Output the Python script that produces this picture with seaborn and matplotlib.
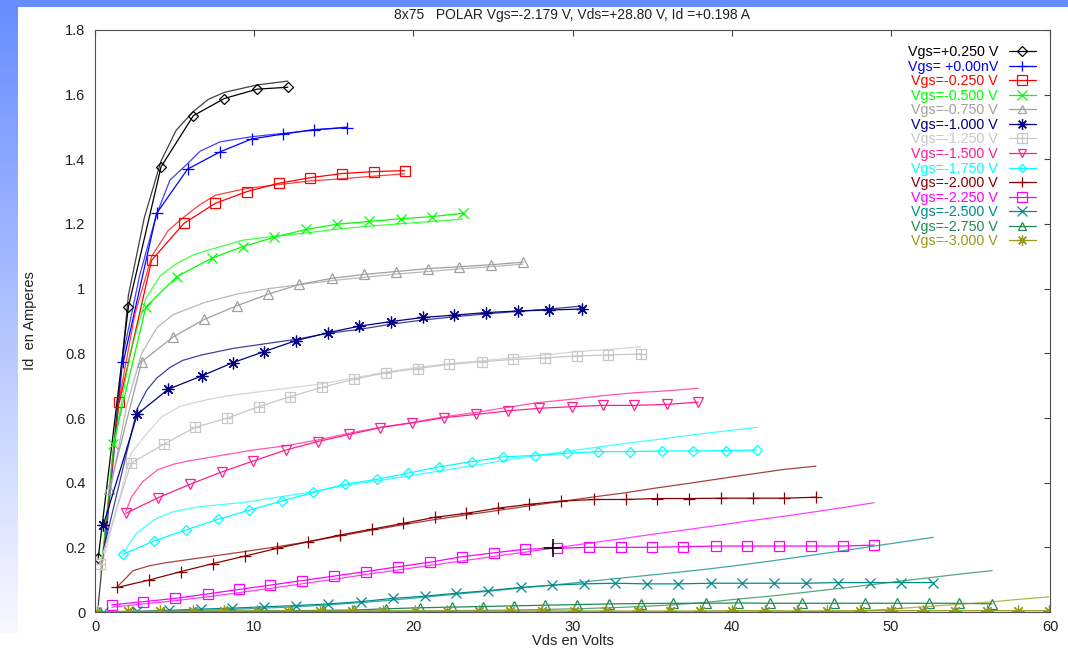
import numpy as np
import matplotlib
matplotlib.use("Agg")
import matplotlib.pyplot as plt
from matplotlib.path import Path
from matplotlib.lines import Line2D
from matplotlib.patches import Rectangle
import seaborn as sns

# ---------------------------------------------------------------- data
title = "8x75   POLAR Vgs=-2.179 V, Vds=+28.80 V, Id =+0.198 A"
x_label = "Vds en Volts"
y_label = "Id  en Amperes"
x_ticks = [0, 10, 20, 30, 40, 50, 60]
x_tick_labels = ["0", "10", "20", "30", "40", "50", "60"]
y_ticks = [0, 0.2, 0.4, 0.6, 0.8, 1.0, 1.2, 1.4, 1.6, 1.8]
y_tick_labels = ["0", "0.2", "0.4", "0.6", "0.8", "1", "1.2", "1.4", "1.6", "1.8"]

labels = ["Vgs=+0.250 V", "Vgs= +0.00nV", "Vgs=-0.250 V", "Vgs=-0.500 V",
          "Vgs=-0.750 V", "Vgs=-1.000 V", "Vgs=-1.250 V", "Vgs=-1.500 V",
          "Vgs=-1.750 V", "Vgs=-2.000 V", "Vgs=-2.250 V", "Vgs=-2.500 V",
          "Vgs=-2.750 V", "Vgs=-3.000 V"]

# measured points (vds_*, id_*) and model curves (mvds_*, mod_*) per Vgs

# Vgs = +0.250 V
vds_p025 = [0.2, 2.1, 4.15, 6.18, 8.12, 10.18, 12.12]
id_p025 = [0.166, 0.944, 1.377, 1.535, 1.588, 1.617, 1.623]
mvds_p025 = [0.2, 2.1, 3.1, 4.15, 5.1, 6.18, 7.1, 8.12, 10.18, 12.12]
mod_p025 = [0.02, 0.98, 1.22, 1.395, 1.49, 1.548, 1.585, 1.607, 1.630, 1.642]

# Vgs = 0.000 V
vds_000 = [1.78, 3.87, 5.82, 7.85, 9.84, 11.79, 13.76, 15.81]
id_000 = [0.774, 1.233, 1.370, 1.423, 1.463, 1.478, 1.492, 1.498]
mvds_000 = [0.63, 1.78, 2.8, 3.87, 4.71, 5.82, 6.6, 7.85, 9.84, 11.79, 13.76, 15.81]
mod_000 = [0.20, 0.80, 1.04, 1.23, 1.336, 1.387, 1.425, 1.454, 1.470, 1.480, 1.490, 1.500]

# Vgs = -0.250 V
vds_m025 = [1.53, 3.56, 5.59, 7.56, 9.53, 11.54, 13.50, 15.50, 17.50, 19.45]
id_m025 = [0.648, 1.088, 1.202, 1.264, 1.300, 1.326, 1.343, 1.356, 1.362, 1.365]
mvds_m025 = [0.45, 1.53, 2.5, 3.56, 4.6, 5.59, 6.6, 7.56, 9.53, 11.54, 13.50, 15.50, 17.50, 19.45]
mod_m025 = [0.15, 0.66, 0.92, 1.10, 1.18, 1.222, 1.260, 1.289, 1.310, 1.322, 1.333, 1.340, 1.348, 1.355]

# Vgs = -0.500 V
vds_m050 = [1.15, 3.2, 5.13, 7.33, 9.28, 11.26, 13.23, 15.18, 17.2, 19.2, 21.2, 23.1]
id_m050 = [0.52, 0.944, 1.037, 1.094, 1.130, 1.159, 1.183, 1.199, 1.208, 1.216, 1.223, 1.233]
mvds_m050 = [0.35, 1.15, 2.2, 3.2, 4.1, 5.13, 6.2, 7.33, 9.28, 11.26, 13.23, 15.18, 17.2, 19.2, 21.2, 23.1]
mod_m050 = [0.12, 0.50, 0.80, 0.97, 1.04, 1.078, 1.105, 1.122, 1.150, 1.162, 1.172, 1.184, 1.193, 1.201, 1.208, 1.215]

# Vgs = -0.750 V
vds_m075 = [0.9, 2.93, 4.92, 6.87, 8.9, 10.89, 12.83, 14.87, 16.9, 18.9, 20.9, 22.9, 24.9, 26.9]
id_m075 = [0.38, 0.774, 0.851, 0.905, 0.947, 0.983, 1.013, 1.032, 1.044, 1.053, 1.062, 1.068, 1.074, 1.082]
mvds_m075 = [0.9, 2.0, 2.93, 3.9, 4.92, 6.87, 8.9, 10.89, 12.83, 14.87, 16.9, 18.9, 20.9, 22.9, 24.9, 26.9]
mod_m075 = [0.36, 0.64, 0.80, 0.88, 0.92, 0.957, 0.983, 1.000, 1.012, 1.025, 1.035, 1.045, 1.053, 1.061, 1.068, 1.076]

# Vgs = -1.000 V
vds_m100 = [0.52, 2.66, 4.6, 6.7, 8.65, 10.6, 12.6, 14.65, 16.6, 18.57, 20.6, 22.57, 24.56, 26.6, 28.5, 30.57]
id_m100 = [0.269, 0.612, 0.689, 0.730, 0.771, 0.805, 0.839, 0.864, 0.884, 0.898, 0.911, 0.918, 0.926, 0.931, 0.934, 0.937]
mvds_m100 = [0.52, 2.66, 3.25, 3.87, 4.7, 5.5, 6.7, 8.65, 10.6, 12.6, 14.65, 16.6, 18.57, 20.6, 22.57, 24.56, 26.6, 28.5, 30.57]
mod_m100 = [0.19, 0.63, 0.686, 0.723, 0.756, 0.778, 0.795, 0.815, 0.829, 0.843, 0.862, 0.874, 0.890, 0.903, 0.913, 0.922, 0.930, 0.937, 0.946]

# Vgs = -1.250 V
vds_m125 = [0.3, 2.26, 4.33, 6.28, 8.27, 10.3, 12.25, 14.28, 16.27, 18.28, 20.3, 22.25, 24.3, 26.24, 28.27, 30.26, 32.24, 34.28]
id_m125 = [0.15, 0.460, 0.519, 0.571, 0.599, 0.635, 0.666, 0.695, 0.720, 0.740, 0.753, 0.766, 0.774, 0.781, 0.786, 0.792, 0.795, 0.798]
mvds_m125 = [0.3, 2.26, 3.25, 4.2, 5.3, 6.28, 7.2, 8.27, 10.3, 12.25, 14.28, 16.27, 18.28, 20.3, 22.25, 24.3, 26.24, 28.27, 30.26, 32.24, 34.28]
mod_m125 = [0.12, 0.49, 0.552, 0.604, 0.635, 0.648, 0.658, 0.668, 0.681, 0.693, 0.706, 0.724, 0.742, 0.757, 0.768, 0.777, 0.786, 0.795, 0.805, 0.812, 0.820]

# Vgs = -1.500 V
vds_m150 = [1.93, 3.94, 5.97, 8.0, 9.95, 11.98, 13.99, 15.97, 17.9, 19.93, 21.94, 23.93, 25.92, 27.9, 29.94, 31.9, 33.88, 35.91, 37.9]
id_m150 = [0.305, 0.353, 0.395, 0.434, 0.467, 0.501, 0.527, 0.549, 0.570, 0.585, 0.601, 0.611, 0.622, 0.630, 0.635, 0.639, 0.639, 0.642, 0.649]
mvds_m150 = [1.93, 2.3, 3.0, 3.94, 5.0, 5.97, 8.0, 9.95, 11.98, 13.99, 15.97, 17.9, 19.93, 21.94, 23.93, 25.92, 27.9, 29.94, 31.9, 33.88, 35.91, 37.9]
mod_m150 = [0.31, 0.357, 0.403, 0.440, 0.458, 0.468, 0.485, 0.501, 0.514, 0.532, 0.553, 0.571, 0.586, 0.604, 0.617, 0.633, 0.648, 0.658, 0.669, 0.678, 0.684, 0.692]

# Vgs = -1.750 V
vds_m175 = [1.74, 3.73, 5.72, 7.75, 9.69, 11.72, 13.71, 15.7, 17.69, 19.64, 21.63, 23.66, 25.65, 27.64, 29.67, 31.61, 33.6, 35.6, 37.58, 39.64, 41.6]
id_m175 = [0.178, 0.220, 0.254, 0.287, 0.315, 0.343, 0.370, 0.395, 0.410, 0.429, 0.449, 0.465, 0.480, 0.484, 0.491, 0.496, 0.496, 0.498, 0.498, 0.499, 0.501]
mvds_m175 = [1.74, 2.6, 3.73, 4.9, 5.72, 6.6, 7.75, 9.69, 11.72, 13.71, 15.7, 17.69, 19.64, 21.63, 23.66, 25.65, 27.64, 29.67, 31.61, 33.6, 35.6, 37.58, 39.64, 41.6]
mod_m175 = [0.18, 0.243, 0.286, 0.310, 0.318, 0.326, 0.331, 0.341, 0.357, 0.372, 0.392, 0.405, 0.420, 0.436, 0.452, 0.468, 0.483, 0.497, 0.510, 0.523, 0.535, 0.548, 0.560, 0.571]

# Vgs = -2.000 V
vds_m200 = [1.4, 3.41, 5.4, 7.43, 9.42, 11.45, 13.36, 15.39, 17.38, 19.37, 21.36, 23.3, 25.3, 27.28, 29.3, 31.34, 33.35, 35.32, 37.33, 39.36, 41.31, 43.28, 45.29]
id_m200 = [0.076, 0.099, 0.125, 0.150, 0.173, 0.197, 0.217, 0.238, 0.256, 0.274, 0.293, 0.305, 0.321, 0.333, 0.343, 0.348, 0.348, 0.351, 0.351, 0.352, 0.352, 0.352, 0.355]
mvds_m200 = [1.4, 2.4, 3.41, 4.4, 5.4, 7.43, 9.42, 11.45, 13.36, 15.39, 17.38, 19.37, 21.36, 23.3, 25.3, 27.28, 29.3, 31.34, 33.35, 35.32, 37.33, 39.36, 41.31, 43.28, 45.29]
mod_m200 = [0.078, 0.128, 0.143, 0.152, 0.159, 0.173, 0.187, 0.202, 0.217, 0.235, 0.253, 0.270, 0.286, 0.300, 0.314, 0.328, 0.342, 0.356, 0.369, 0.384, 0.398, 0.413, 0.427, 0.441, 0.451]

# Vgs = -2.250 V
vds_m225 = [1.05, 3.04, 5.03, 7.08, 9.07, 11.0, 12.98, 15.0, 17.02, 19.05, 21.04, 23.07, 25.06, 27.0, 29.0, 31.05, 33.02, 34.97, 36.95, 39.0, 40.97, 42.96, 44.97, 47.0, 48.95]
id_m225 = [0.022, 0.032, 0.042, 0.056, 0.070, 0.083, 0.097, 0.111, 0.125, 0.140, 0.154, 0.171, 0.183, 0.194, 0.197, 0.200, 0.200, 0.200, 0.202, 0.204, 0.204, 0.204, 0.204, 0.204, 0.207]
mvds_m225 = vds_m225
mod_m225 = [0.015, 0.025, 0.035, 0.047, 0.060, 0.073, 0.087, 0.101, 0.116, 0.130, 0.144, 0.158, 0.172, 0.185, 0.199, 0.213, 0.226, 0.240, 0.253, 0.267, 0.281, 0.294, 0.308, 0.323, 0.338]

# Vgs = -2.500 V
vds_m250 = [0.5, 2.62, 4.66, 6.65, 8.63, 10.62, 12.63, 14.66, 16.7, 18.7, 20.73, 22.68, 24.7, 26.74, 28.69, 30.7, 32.66, 34.65, 36.64, 38.7, 40.68, 42.65, 44.66, 46.65, 48.68, 50.63, 52.66]
id_m250 = [0.0, 0.002, 0.005, 0.009, 0.012, 0.016, 0.020, 0.025, 0.032, 0.042, 0.049, 0.058, 0.066, 0.076, 0.083, 0.087, 0.089, 0.087, 0.087, 0.089, 0.089, 0.089, 0.089, 0.091, 0.091, 0.091, 0.091]
mvds_m250 = vds_m250
mod_m250 = [0.0, 0.001, 0.003, 0.005, 0.008, 0.012, 0.016, 0.022, 0.029, 0.037, 0.046, 0.055, 0.064, 0.074, 0.083, 0.093, 0.103, 0.113, 0.123, 0.134, 0.146, 0.159, 0.173, 0.187, 0.202, 0.216, 0.231]

# Vgs = -2.750 V
vds_m275 = [0.3, 2.3, 4.3, 6.3, 8.3, 10.3, 12.3, 14.3, 16.3, 18.3, 20.4, 22.4, 24.4, 26.3, 28.3, 30.3, 32.3, 34.3, 36.3, 38.4, 40.4, 42.4, 44.45, 46.4, 48.37, 50.36, 52.4, 54.3, 56.36]
id_m275 = [0.0, 0.0, 0.001, 0.001, 0.002, 0.003, 0.004, 0.005, 0.006, 0.010, 0.013, 0.015, 0.017, 0.019, 0.021, 0.023, 0.025, 0.026, 0.027, 0.027, 0.028, 0.027, 0.027, 0.027, 0.027, 0.027, 0.027, 0.027, 0.025]
mvds_m275 = vds_m275
mod_m275 = [0.0, 0.0, 0.0, 0.0, 0.001, 0.001, 0.001, 0.002, 0.002, 0.003, 0.003, 0.004, 0.005, 0.006, 0.008, 0.010, 0.013, 0.017, 0.022, 0.030, 0.040, 0.049, 0.060, 0.071, 0.082, 0.094, 0.106, 0.117, 0.128]

# Vgs = -3.000 V
vds_m300 = [0.1, 2.1, 4.08, 6.13, 8.1, 10.15, 12.14, 14.13, 16.12, 18.1, 20.1, 22.1, 24.1, 26.1, 28.1, 30.1, 32.1, 34.1, 36.1, 38.0, 40.03, 42.09, 44.08, 46.02, 48.05, 49.98, 51.99, 54.02, 56.05, 58.0, 59.94]
id_m300 = [0.0, 0.002, 0.002, 0.003, 0.003, 0.003, 0.003, 0.003, 0.003, 0.003, 0.003, 0.003, 0.003, 0.003, 0.003, 0.003, 0.003, 0.003, 0.003, 0.003, 0.004, 0.004, 0.003, 0.003, 0.004, 0.004, 0.004, 0.004, 0.004, 0.004, 0.004]
mvds_m300 = vds_m300
mod_m300 = [0.0, 0.0, 0.0, 0.0, 0.0, 0.0, 0.0, 0.0, 0.0, 0.0, 0.0, 0.0, 0.0, 0.0, 0.0, 0.0, 0.0, 0.0, 0.0, 0.0, 0.0, 0.0, 0.001, 0.002, 0.004, 0.009, 0.016, 0.023, 0.030, 0.039, 0.047]

# operating point quoted in the title
cursor_vds = 28.80
cursor_id = 0.198

# ---------------------------------------------------------------- styles
colors = ["#000000", "#0000ff", "#ff0000", "#00ff00", "#a0a0a0", "#000080",
          "#c8c8c8", "#ff1f8f", "#00ffff", "#8b0000", "#ff00ff", "#008b8b",
          "#1f8b50", "#9a9a1a"]

boxplus = Path([(-1, -1), (1, -1), (1, 1), (-1, 1), (-1, -1),
                (0, -1), (0, 1), (-1, 0), (1, 0)],
               [Path.MOVETO, Path.LINETO, Path.LINETO, Path.LINETO, Path.LINETO,
                Path.MOVETO, Path.LINETO, Path.MOVETO, Path.LINETO])
asterisk = (8, 2, 0)
markers = ["D", "+", "s", "x", "^", asterisk, boxplus, "v", "D", "+", "s", "x", "^", asterisk]
marker_sizes = [5.5, 8.5, 7.5, 7.5, 7, 8.5, 7.5, 7, 5, 8.5, 7.5, 7.5, 7, 8.5]

vds_sets = [vds_p025, vds_000, vds_m025, vds_m050, vds_m075, vds_m100, vds_m125,
            vds_m150, vds_m175, vds_m200, vds_m225, vds_m250, vds_m275, vds_m300]
id_sets = [id_p025, id_000, id_m025, id_m050, id_m075, id_m100, id_m125,
           id_m150, id_m175, id_m200, id_m225, id_m250, id_m275, id_m300]
mvds_sets = [mvds_p025, mvds_000, mvds_m025, mvds_m050, mvds_m075, mvds_m100,
             mvds_m125, mvds_m150, mvds_m175, mvds_m200, mvds_m225, mvds_m250,
             mvds_m275, mvds_m300]
mod_sets = [mod_p025, mod_000, mod_m025, mod_m050, mod_m075, mod_m100, mod_m125,
            mod_m150, mod_m175, mod_m200, mod_m225, mod_m250, mod_m275, mod_m300]

# ---------------------------------------------------------------- figure
sns.set_theme(style="white")
plt.rcParams["font.family"] = ["Liberation Sans", "DejaVu Sans"]

W, H = 1068, 651
fig = plt.figure(figsize=(W / 100, H / 100), dpi=100)

# slide background: blue gradient band on top and left
bg = fig.add_axes([0, 0, 1, 1], zorder=-5)
bg.set_axis_off()
t = np.linspace(0, 1, 256)[:, None, None]
c_top = np.array([0.40, 0.55, 1.0])
c_bot = np.array([0.99, 0.99, 1.0])
bg.imshow(c_top + (c_bot - c_top) * t, extent=[0, 1, 0, 1], aspect="auto",
          origin="upper")
bg.add_patch(Rectangle((18 / W, 0), 1, 644 / H, color="white", lw=0))
bg.add_patch(Rectangle((0, 0), 18 / W, 18 / H, color="white", lw=0))
bg.set_xlim(0, 1)
bg.set_ylim(0, 1)

ax = fig.add_axes([95 / W, (H - 612) / H, (1050 - 95) / W, (612 - 30) / H])
ax.patch.set_alpha(0)

for vds, meas, mvds, mod, col, mk, ms in zip(vds_sets, id_sets, mvds_sets, mod_sets,
                                             colors, markers, marker_sizes):
    sns.lineplot(x=mvds, y=mod, color=col, lw=0.9, alpha=0.75, sort=False,
                 estimator=None, ax=ax, legend=False)
    sns.lineplot(x=vds, y=meas, color=col, lw=0.9, sort=False, estimator=None,
                 marker=mk, markersize=ms, markerfacecolor="none",
                 markeredgecolor=col, markeredgewidth=0.9, ax=ax, legend=False)

# operating-point cursor
sns.lineplot(x=[cursor_vds], y=[cursor_id], marker="_", markersize=16,
             markeredgecolor="#707070", markeredgewidth=1.2, lw=0, ax=ax,
             legend=False)
sns.lineplot(x=[cursor_vds], y=[cursor_id], marker="+", markersize=13,
             markeredgecolor="black", markeredgewidth=1.1, lw=0, ax=ax,
             legend=False)

ax.set_xlim(0, 60)
ax.set_ylim(0, 1.8)
ax.set_xticks(x_ticks)
ax.set_xticklabels(x_tick_labels)
ax.set_yticks(y_ticks)
ax.set_yticklabels(y_tick_labels)
ax.tick_params(direction="in", length=4, width=0.8, color="#404040",
               top=True, right=True, labelsize=10.5, labelcolor="#222222")
ax.tick_params(axis="x", pad=6)
ax.tick_params(axis="y", pad=7)
for sp in ax.spines.values():
    sp.set_color("#505050")
    sp.set_linewidth(0.8)
    sp.set_visible(True)

ax.set_xlabel(x_label, fontsize=10.5, color="#222222")
ax.set_ylabel(y_label, fontsize=10.5, color="#222222")
ax.xaxis.set_label_coords(0.5, -0.037)
ax.yaxis.set_label_coords(-0.061, 0.5)
ax.set_title(title, fontsize=10, color="#222222", pad=8)

handles = [Line2D([], [], color=c, lw=0.9, marker=m, markersize=ms * 0.9,
                  markerfacecolor="none", markeredgecolor=c, markeredgewidth=0.9)
           for c, m, ms in zip(colors, markers, marker_sizes)]
ax.legend(handles, labels, loc="upper right", bbox_to_anchor=(1036 / W, 1 - 45 / H),
          bbox_transform=fig.transFigure, markerfirst=False, frameon=False,
          labelcolor=colors, fontsize=10.3, handlelength=1.9, handletextpad=0.75,
          labelspacing=0.04, borderpad=0, borderaxespad=0)

fig.savefig("out.png", dpi=100)
